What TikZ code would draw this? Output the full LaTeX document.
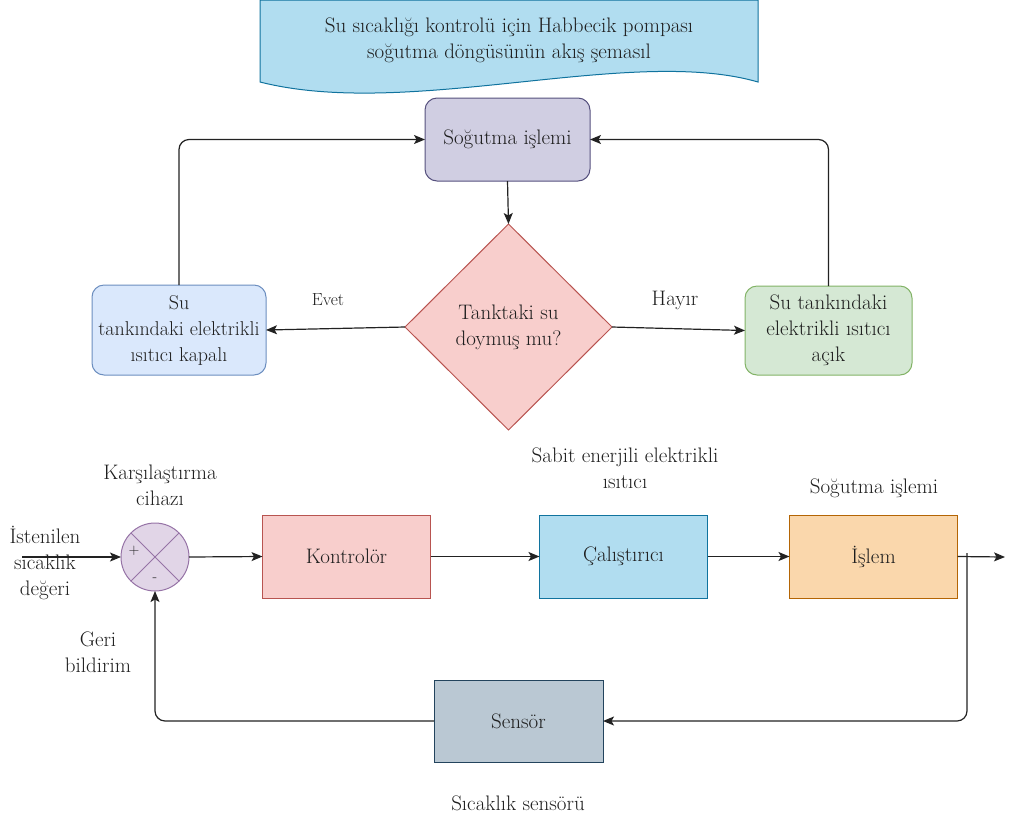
\documentclass[tikz,border=0pt]{standalone}
\usetikzlibrary{shapes.geometric,arrows.meta}
\definecolor{txt}{HTML}{1E1E1E}
\definecolor{ln}{HTML}{222222}
\definecolor{docfill}{HTML}{B1DDF0}\definecolor{docline}{HTML}{10739E}
\definecolor{coolfill}{HTML}{D0CEE2}\definecolor{coolline}{HTML}{56517E}
\definecolor{redfill}{HTML}{F8CECC}\definecolor{redline}{HTML}{B85450}
\definecolor{bluefill}{HTML}{DAE8FC}\definecolor{blueline}{HTML}{6C8EBF}
\definecolor{greenfill}{HTML}{D5E8D4}\definecolor{greenline}{HTML}{82B366}
\definecolor{cmpfill}{HTML}{E1D5E7}\definecolor{cmpline}{HTML}{9673A6}
\definecolor{orgfill}{HTML}{FAD7AC}\definecolor{orgline}{HTML}{B46504}
\definecolor{grayfill}{HTML}{BAC8D3}\definecolor{grayline}{HTML}{23445D}
\tikzset{
  base/.style={text=txt, align=center, inner sep=1pt, outer sep=0pt, line width=1pt},
  flowbox/.style={base, rectangle, rounded corners=12pt, minimum width=174pt, minimum height=90pt},
  blockbox/.style={base, rectangle, minimum width=168pt, minimum height=83pt},
  lbl/.style={text=txt, align=center, inner sep=1pt},
  conn/.style={draw=ln, line width=1.2pt, -{Stealth[length=11pt,width=9pt,inset=2.5pt]}},
  plain/.style={draw=ln, line width=1.2pt}
}
\begin{document}
\begin{tikzpicture}[x=1pt,y=-1pt,font=\fontsize{21}{26}\selectfont]
\useasboundingbox (0,0) rectangle (1015,823);

% title banner with a wavy lower edge
\path[fill=docfill, draw=docline, line width=1pt]
  (260,0) -- (758,0) -- (758,82)
  .. controls (630,45) and (410,120) .. (260,82) -- cycle;
\node[lbl] (title) at (509,40) {Su sıcaklığı kontrolü için Habbecik pompası\\soğutma döngüsünün akış şemasıl};

% upper flowchart
\node[flowbox, fill=coolfill, draw=coolline, minimum width=165pt, minimum height=83pt] (cool) at (507.5,139.5) {Soğutma işlemi};
\node[base, diamond, aspect=1, minimum width=207pt, minimum height=206pt, fill=redfill, draw=redline, inner sep=0pt] (dec) at (508.5,327) {Tanktaki su\\doymuş mu?};
\node[flowbox, fill=bluefill, draw=blueline, font=\fontsize{20}{26}\selectfont] (off) at (179,330) {Su\\tankındaki elektrikli\\ısıtıcı kapalı};
\node[flowbox, fill=greenfill, draw=greenline, minimum width=167pt, minimum height=89pt] (on) at (828.5,330.5) {Su tankındaki\\elektrikli ısıtıcı\\açık};

\draw[conn] (cool.south) -- (dec.north);
\draw[conn] (dec.west) -- (off.east);
\draw[conn] (dec.east) -- (on.west);
\draw[conn, rounded corners=10pt] (off.north) |- (cool.west);
\draw[conn, rounded corners=10pt] (on.north) |- (cool.east);
\node[lbl, font=\fontsize{17.5}{21}\selectfont] (yes) at (328,300) {Evet};
\node[lbl] (no) at (675,300) {Hayır};

% lower control loop
\node[base, circle, minimum size=68pt, fill=cmpfill, draw=cmpline, inner sep=0pt] (cmp) at (155,557) {};
\draw[cmpline, line width=1pt] (cmp.north west) -- (cmp.south east);
\draw[cmpline, line width=1pt] (cmp.north east) -- (cmp.south west);
\node[lbl, font=\fontsize{15}{19}\selectfont] (plus) at (134,551) {+};
\node[lbl, font=\fontsize{15}{19}\selectfont] (minus) at (155,580) {-};

\node[blockbox, fill=redfill, draw=redline] (ctrl) at (346.5,556.5) {Kontrolör};
\node[blockbox, fill=docfill, draw=docline] (act) at (623.5,556.5) {Çalıştırıcı};
\node[blockbox, fill=orgfill, draw=orgline] (proc) at (873.5,556.5) {İşlem};
\node[blockbox, fill=grayfill, draw=grayline, minimum width=169pt, minimum height=82pt] (sens) at (518.5,721) {Sensör};

\coordinate (inp) at (22,557);
\coordinate (out) at (1005,557);
\coordinate (tap) at (967,553);

\draw[conn] (inp) -- (cmp.west);
\draw[conn] (cmp.east) -- (ctrl.west);
\draw[conn] (ctrl.east) -- (act.west);
\draw[conn] (act.east) -- (proc.west);
\draw[conn] (proc.east) -- (out);
\draw[conn, rounded corners=10pt] (tap) |- (sens.east);
\draw[conn, rounded corners=10pt] (sens.west) -| (cmp.south);

\node[lbl] (karsi) at (160,485) {Karşılaştırma\\cihazı};
\node[lbl] (istenen) at (45,563) {İstenilen\\sıcaklık\\değeri};
\node[lbl] (geri) at (98,652) {Geri\\bildirim};
\node[lbl] (sabit) at (625,468) {Sabit enerjili elektrikli\\ısıtıcı};
\node[lbl] (sogu) at (874,488) {Soğutma işlemi};
\node[lbl] (sicak) at (518,803) {Sıcaklık sensörü};
\end{tikzpicture}
\end{document}
